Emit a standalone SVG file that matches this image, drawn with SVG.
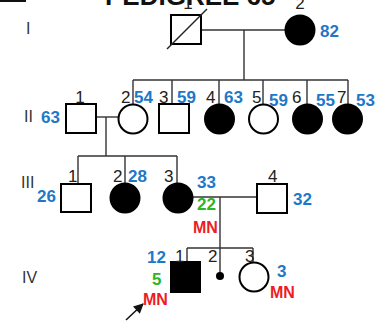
<svg xmlns="http://www.w3.org/2000/svg" width="382" height="327" viewBox="0 0 382 327">
<defs>
<style>
.sym{fill:#fff;stroke:#000;stroke-width:2}
.aff{fill:#000;stroke:#000;stroke-width:2}
.ln{stroke:#333;stroke-width:1.4;fill:none}
.num{font-family:"Liberation Sans",Arial,sans-serif;font-size:17px;fill:#222}
.gen{font-family:"Liberation Sans",Arial,sans-serif;font-size:16px;fill:#333}
.age{font-family:"Liberation Sans",Arial,sans-serif;font-size:17px;font-weight:bold;fill:#1e78c8}
.grn{font-family:"Liberation Sans",Arial,sans-serif;font-size:17px;font-weight:bold;fill:#2bb52b}
.red{font-family:"Liberation Sans",Arial,sans-serif;font-size:16px;font-weight:bold;fill:#ee1c25}
.title{font-family:"Liberation Sans",Arial,sans-serif;font-size:26px;font-weight:bold;fill:#111}
</style>
<marker id="ah" viewBox="0 0 10 10" refX="9" refY="5" markerWidth="11" markerHeight="10" orient="auto" markerUnits="userSpaceOnUse">
<path d="M0,0 L10,5 L0,10 z" fill="#111"/>
</marker>
</defs>
<rect width="382" height="327" fill="#fff"/>
<line x1="0" y1="1" x2="26" y2="1" stroke="#111" stroke-width="2"/>
<text class="title" x="105" y="5">PEDIGREE 65</text>
<g id="gen-labels">
<text class="gen" x="26" y="34">I</text>
<text class="gen" x="24" y="122">II</text>
<text class="gen" x="21" y="188">III</text>
<text class="gen" x="22" y="283">IV</text>
</g>
<g id="connectors">
<line class="ln" x1="201" y1="30" x2="285" y2="30"/>
<line class="ln" x1="244" y1="30" x2="244" y2="80"/>
<line class="ln" x1="133" y1="80" x2="348" y2="80"/>
<line class="ln" x1="133" y1="80" x2="133" y2="104"/>
<line class="ln" x1="172" y1="80" x2="172" y2="104"/>
<line class="ln" x1="219" y1="80" x2="219" y2="104"/>
<line class="ln" x1="263" y1="80" x2="263" y2="104"/>
<line class="ln" x1="307" y1="80" x2="307" y2="104"/>
<line class="ln" x1="348" y1="80" x2="348" y2="104"/>
<line class="ln" x1="96" y1="117" x2="118" y2="117"/>
<line class="ln" x1="106" y1="117" x2="106" y2="156"/>
<line class="ln" x1="78" y1="156" x2="177" y2="156"/>
<line class="ln" x1="78" y1="156" x2="78" y2="184"/>
<line class="ln" x1="125" y1="156" x2="125" y2="183"/>
<line class="ln" x1="177" y1="156" x2="177" y2="183"/>
<line class="ln" x1="193" y1="197" x2="257" y2="197"/>
<line class="ln" x1="220" y1="197" x2="220" y2="276"/>
<line class="ln" x1="187" y1="248" x2="253" y2="248"/>
<line class="ln" x1="187" y1="248" x2="187" y2="262"/>
<line class="ln" x1="253" y1="248" x2="253" y2="262"/>
<line x1="126" y1="320" x2="143" y2="304" stroke="#111" stroke-width="1.5" marker-end="url(#ah)"/>
</g>
<g id="I-1">
<rect class="sym" x="171" y="15" width="30" height="29"/>
<line x1="167" y1="49" x2="207" y2="9" stroke="#222" stroke-width="1.4"/>
<text class="num" x="188" y="9" text-anchor="middle">1</text>
</g>
<g id="I-2">
<circle class="aff" cx="300" cy="30" r="14.5"/>
<text class="num" x="300" y="9" text-anchor="middle">2</text>
<text class="age" x="320" y="37">82</text>
</g>
<g id="II-1">
<rect class="sym" x="66" y="104" width="30" height="29"/>
<text class="num" x="80" y="103" text-anchor="middle">1</text>
<text class="age" x="41" y="123">63</text>
</g>
<g id="II-2">
<circle class="sym" cx="133" cy="119" r="14.5"/>
<text class="num" x="121" y="103">2</text>
<text class="age" x="134" y="103">54</text>
</g>
<g id="II-3">
<rect class="sym" x="159" y="104" width="30" height="29"/>
<text class="num" x="159" y="103">3</text>
<text class="age" x="177" y="103">59</text>
</g>
<g id="II-4">
<circle class="aff" cx="219.5" cy="119" r="14.5"/>
<text class="num" x="206" y="103">4</text>
<text class="age" x="224" y="103">63</text>
</g>
<g id="II-5">
<circle class="sym" cx="263.5" cy="119" r="14.5"/>
<text class="num" x="252" y="103">5</text>
<text class="age" x="269" y="106">59</text>
</g>
<g id="II-6">
<circle class="aff" cx="307.5" cy="119" r="14.5"/>
<text class="num" x="292" y="103">6</text>
<text class="age" x="316" y="106">55</text>
</g>
<g id="II-7">
<circle class="aff" cx="347.5" cy="119" r="14.5"/>
<text class="num" x="337" y="103">7</text>
<text class="age" x="356" y="106">53</text>
</g>
<g id="III-1">
<rect class="sym" x="61" y="184" width="30" height="28"/>
<text class="num" x="68" y="182">1</text>
<text class="age" x="37" y="202">26</text>
</g>
<g id="III-2">
<circle class="aff" cx="125" cy="198" r="14.5"/>
<text class="num" x="113" y="182">2</text>
<text class="age" x="128" y="182">28</text>
</g>
<g id="III-3">
<circle class="aff" cx="178" cy="198" r="14.5"/>
<text class="num" x="164" y="182">3</text>
<text class="age" x="197" y="188">33</text>
<text class="grn" x="197" y="210">22</text>
<text class="red" x="193" y="233">MN</text>
</g>
<g id="III-4">
<rect class="sym" x="257" y="184" width="30" height="29"/>
<text class="num" x="268" y="182">4</text>
<text class="age" x="293" y="205">32</text>
</g>
<g id="IV-1">
<rect class="aff" x="171" y="262" width="29" height="30"/>
<text class="num" x="175" y="262">1</text>
<text class="age" x="147" y="263">12</text>
<text class="grn" x="152" y="285">5</text>
<text class="red" x="143" y="305">MN</text>
</g>
<g id="IV-2">
<circle cx="220" cy="276" r="4" fill="#000"/>
<text class="num" x="208" y="262">2</text>
</g>
<g id="IV-3">
<circle class="sym" cx="254" cy="277" r="14.5"/>
<text class="num" x="245" y="262">3</text>
<text class="age" x="277" y="277">3</text>
<text class="red" x="270" y="298">MN</text>
</g>
</svg>
